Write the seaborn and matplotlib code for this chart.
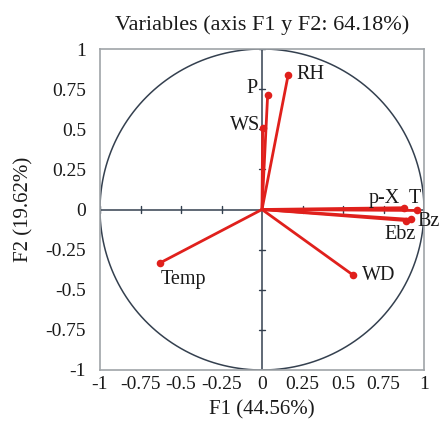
import numpy as np
import pandas as pd
import matplotlib
matplotlib.use("Agg")
import matplotlib.pyplot as plt
import seaborn as sns

# Factor loadings on the first two principal axes
variables = ["RH", "P", "WS", "p-X", "T", "Bz", "Ebz", "WD", "Temp"]
f1 = [0.162, 0.035, 0.004, 0.874, 0.957, 0.920, 0.889, 0.564, -0.628]
f2 = [0.841, 0.716, 0.508, 0.011, -0.006, -0.062, -0.069, -0.410, -0.332]

ticks = [-1, -0.75, -0.5, -0.25, 0, 0.25, 0.5, 0.75, 1]
tick_labels = ["-1", "-0.75", "-0.5", "-0.25", "0", "0.25", "0.5", "0.75", "1"]

# label offsets (pixels) and alignment for each variable name
label_pos = {
    "RH": (8, 0, "left", "center"),
    "P": (-10, 6, "right", "center"),
    "WS": (-2, 2, "right", "center"),
    "p-X": (-4, 9, "right", "center"),
    "T": (-8, 12, "left", "center"),
    "Bz": (6, -2, "left", "center"),
    "Ebz": (10, -14, "right", "center"),
    "WD": (9, 0, "left", "center"),
    "Temp": (0, -17, "left", "center"),
}

sns.set_style("white")
plt.rcParams["font.family"] = ["Liberation Serif", "DejaVu Serif"]

fig = plt.figure(figsize=(4.46, 4.26), dpi=100)
ax = fig.add_axes([100 / 446, 1 - 370 / 426, 324 / 446, 321 / 426])

# correlation circle
theta = np.linspace(0, 2 * np.pi, 400)
ax.plot(np.cos(theta), np.sin(theta), color="#34404f", lw=1.1, zorder=1)

# central axes with small tick marks
ax.axhline(0, color="#34404f", lw=1.1, zorder=1)
ax.axvline(0, color="#34404f", lw=1.1, zorder=1)
tl = 0.02
for t in ticks:
    if t == 0:
        continue
    ax.plot([t, t], [-tl, tl], color="#34404f", lw=1.0, zorder=1)
    ax.plot([-tl, tl], [t, t], color="#34404f", lw=1.0, zorder=1)

# vectors from the origin
seg = pd.DataFrame({
    "var": np.repeat(variables, 2),
    "x": np.ravel([[0.0, x] for x in f1]),
    "y": np.ravel([[0.0, y] for y in f2]),
})
sns.lineplot(data=seg, x="x", y="y", units="var", estimator=None, sort=False,
             color="#e0201c", lw=2.0, ax=ax, zorder=3)
pts = pd.DataFrame({"var": variables, "x": f1, "y": f2})
sns.scatterplot(data=pts, x="x", y="y", color="#e0201c", s=30, linewidth=0,
                ax=ax, zorder=4)

for name, x, y in zip(variables, f1, f2):
    dx, dy, ha, va = label_pos[name]
    ax.annotate(name, (x, y), xytext=(dx, dy), textcoords="offset pixels",
                ha=ha, va=va, fontsize=14.5, color="#1a1a1a")

ax.set_xlim(-1, 1)
ax.set_ylim(-1, 1)
ax.set_xticks(ticks)
ax.set_xticklabels(tick_labels)
ax.set_yticks(ticks)
ax.set_yticklabels(tick_labels)
ax.tick_params(length=0, labelsize=14, colors="#1a1a1a")
ax.tick_params(axis="x", pad=4.5)
ax.tick_params(axis="y", pad=10)
for s in ax.spines.values():
    s.set_color("#a0a4a8")
    s.set_linewidth(1.2)

ax.set_xlabel("F1 (44.56%)", fontsize=15, labelpad=5, color="#1a1a1a")
ax.set_ylabel("F2 (19.62%)", fontsize=15, labelpad=9, color="#1a1a1a")
ax.set_title("Variables (axis F1 y F2: 64.18%)", fontsize=16, pad=14,
             color="#1a1a1a")

fig.savefig("out.png", dpi=100)
